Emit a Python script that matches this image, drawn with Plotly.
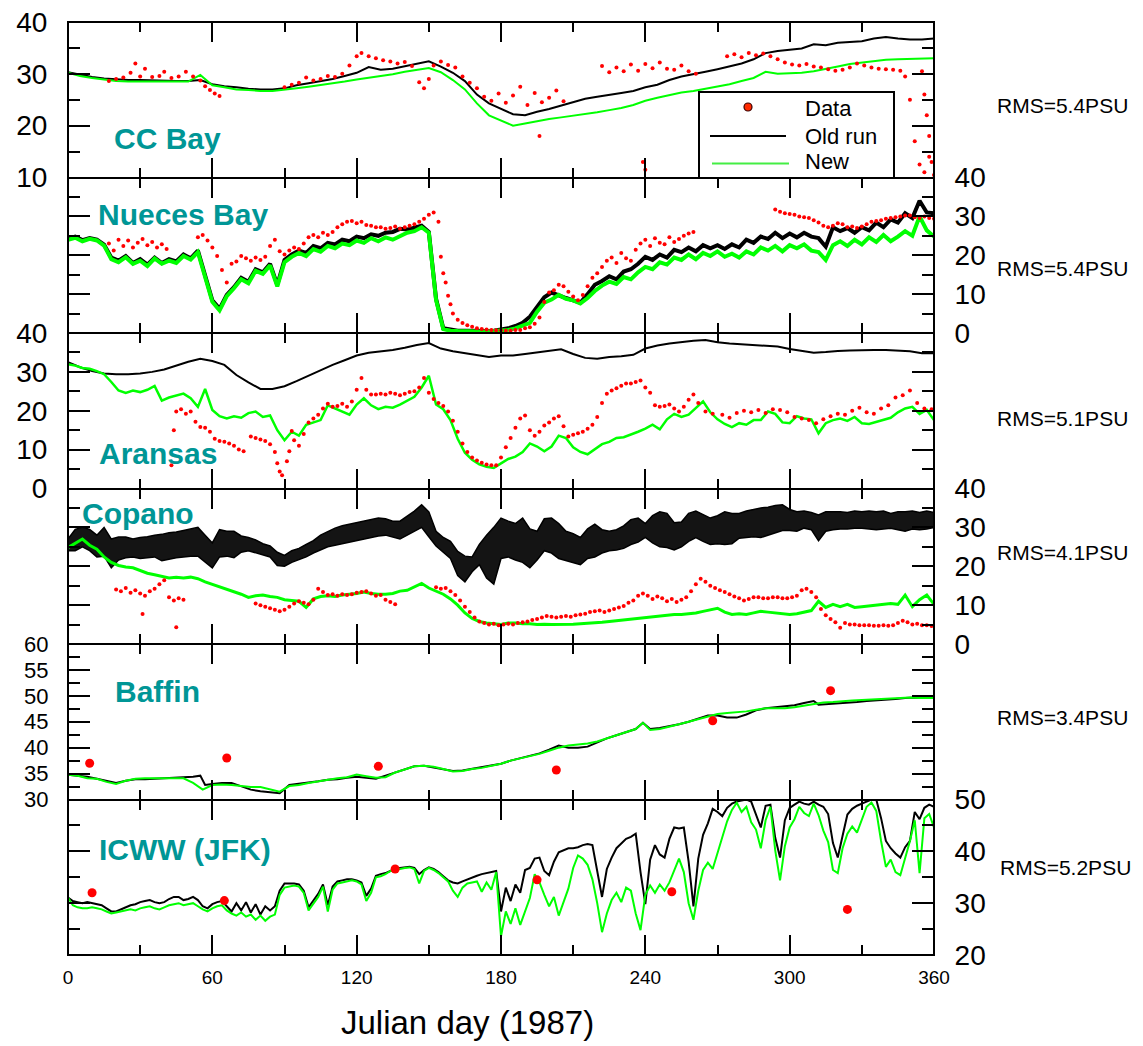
import plotly.graph_objects as go
from plotly.subplots import make_subplots

# ---------------- data (salinity, PSU) ----------------
# CC Bay
CC_DAYS = list(range(0, 361, 5))
CC_OLD = [30.3, 29.8, 29.4, 29.1, 28.9, 28.8, 28.8, 28.7, 28.7, 28.6,
          28.6, 28.8, 28.0, 27.6, 27.4, 27.1, 27.0, 27.0, 27.2, 27.8,
          28.2, 28.6, 29.0, 29.6, 30.2, 31.3, 30.8, 31.0, 31.5, 32.0,
          32.4, 31.4, 30.2, 28.6, 26.0, 24.3, 23.2, 22.2, 22.0, 22.7,
          23.2, 23.9, 24.6, 25.2, 25.6, 25.9, 26.3, 26.7, 27.4, 27.9,
          28.8, 29.5, 29.9, 30.4, 30.9, 31.4, 32.0, 32.8, 34.0, 34.4,
          34.6, 34.9, 35.7, 35.5, 36.0, 36.2, 36.3, 36.8, 37.1, 36.8,
          36.6, 36.6, 36.8]
CC_NEW = [30.2, 29.6, 29.2, 28.9, 28.6, 28.5, 28.5, 28.5, 28.4, 28.4,
          28.5, 29.8, 27.8, 27.4, 27.0, 26.9, 26.7, 26.7, 26.9, 27.2,
          27.5, 27.8, 28.1, 28.5, 28.9, 29.2, 29.5, 29.9, 30.4, 30.8,
          31.1, 30.3, 28.8, 27.0, 24.3, 22.0, 21.0, 20.0, 20.4, 20.9,
          21.3, 21.6, 21.9, 22.2, 22.6, 23.0, 23.4, 24.0, 24.8, 25.4,
          25.9, 26.4, 26.7, 27.1, 27.5, 28.0, 28.6, 29.2, 30.4, 30.0,
          30.1, 30.2, 30.5, 30.9, 31.4, 31.9, 32.2, 32.4, 32.7, 32.8,
          32.9, 33.0, 33.0]
CC_DATA_DAYS = ([17, 20, 23, 26, 28, 30, 32, 35, 38, 40, 43, 46, 49, 52, 55, 57, 59, 61, 63]
                + [90, 93, 96, 99, 102, 105, 108, 111, 114, 117, 120, 122, 125, 128, 131, 134, 137, 140,
                   143, 146, 148, 150, 152, 155, 158, 161, 164, 167, 170, 173, 176, 179, 182, 185, 188,
                   191, 194, 197, 200, 203, 206]
                + [196, 239, 240]
                + [222, 225, 228, 231, 234, 237, 240, 243, 246, 249, 252, 255, 258, 261]
                + [274, 277, 280, 283, 286, 289, 292, 295, 298, 301, 304, 307, 310, 313, 316, 319, 322,
                   325, 328, 331, 334, 337, 340, 343, 346, 348, 350, 352, 354, 356, 358, 360]
                + [355, 356, 357, 358, 359])
CC_DATA = ([28.6, 29.0, 29.3, 30.2, 32.0, 29.5, 31.0, 29.4, 29.6, 30.4, 29.2, 29.5, 30.4, 29.5, 28.7,
            27.6, 26.9, 26.2, 25.7]
           + [27.4, 27.9, 28.3, 29.3, 28.7, 29.0, 29.6, 29.4, 30.0, 31.6, 33.4, 34.0, 33.4, 33.0, 32.6,
              32.4, 32.0, 32.3, 31.5, 28.4, 27.2, 29.0, 31.6, 32.4, 31.7, 31.2, 29.5, 28.3, 27.2, 25.6,
              24.8, 26.2, 24.4, 25.8, 27.5, 24.0, 26.3, 24.5, 25.4, 26.8, 24.7]
           + [18.0, 13.0, 11.5]
           + [31.5, 30.3, 31.2, 30.5, 31.8, 30.6, 31.9, 31.1, 32.2, 31.0, 30.8, 31.6, 30.5, 30.0]
           + [33.4, 33.8, 33.2, 34.0, 33.6, 33.9, 33.4, 32.8, 32.2, 31.8, 31.6, 31.9, 31.4, 31.2, 30.9,
              30.6, 30.8, 31.2, 32.0, 31.6, 31.2, 31.0, 30.9, 30.8, 30.6, 29.5, 25.0, 17.0, 12.5, 11.0,
              14.0, 10.5]
           + [30.5, 26.0, 22.0, 18.0, 13.0])

# Nueces Bay
NU_DAYS = list(range(0, 361, 3))
NU_OLD = [24.3, 24.8, 23.9, 24.4, 24.0, 22.7, 19.4, 18.6, 19.8, 18.0,
          19.0, 17.6, 19.4, 18.0, 19.0, 18.4, 20.2, 19.2, 21.2, 14.8,
          8.4, 6.2, 9.8, 11.8, 14.2, 13.2, 16.4, 15.6, 17.8, 12.4,
          18.8, 20.2, 21.2, 20.6, 22.4, 21.8, 23.2, 22.8, 24.0, 23.6,
          24.8, 24.4, 25.4, 25.0, 25.8, 26.0, 26.8, 26.6, 27.2, 27.6,
          26.0, 8.8, 1.2, 0.8, 0.6, 0.6, 0.5, 0.5, 0.5, 0.6,
          0.8, 1.2, 1.8, 2.6, 4.2, 6.8, 9.2, 10.4, 9.6, 9.0,
          8.4, 7.8, 10.0, 12.4, 13.4, 14.6, 13.8, 15.8, 16.4, 17.8,
          19.6, 18.8, 20.2, 19.4, 21.4, 20.8, 22.0, 21.0, 22.6, 21.8,
          22.6, 21.6, 22.8, 22.0, 24.0, 23.2, 24.8, 24.2, 25.8, 24.4,
          25.6, 24.6, 25.8, 24.8, 24.4, 22.2, 27.2, 26.2, 27.0, 25.8,
          27.2, 26.4, 28.4, 27.2, 29.2, 28.4, 30.8, 29.6, 34.0, 31.0,
          30.8]
NU_NEW = [24.0, 24.5, 23.6, 24.2, 23.8, 22.5, 19.0, 18.2, 19.5, 17.8,
          18.6, 17.2, 19.2, 17.8, 18.6, 18.0, 19.8, 18.9, 20.8, 14.5,
          8.0, 5.8, 9.5, 11.5, 13.8, 12.8, 16.0, 15.2, 17.4, 12.0,
          18.2, 19.6, 20.6, 19.8, 21.6, 20.9, 22.4, 21.8, 23.0, 22.6,
          23.8, 23.2, 24.4, 23.6, 24.6, 24.0, 25.0, 25.8, 26.2, 27.2,
          25.8, 8.5, 1.0, 0.6, 0.5, 0.4, 0.4, 0.4, 0.4, 0.5,
          0.6, 0.8, 1.2, 1.8, 2.6, 5.5, 7.8, 8.6, 9.8, 8.8,
          8.4, 7.6, 9.0, 10.8, 12.2, 13.2, 12.6, 14.4, 13.8, 15.6,
          17.0, 16.4, 18.2, 17.6, 19.4, 18.8, 20.2, 19.0, 20.6, 19.8,
          21.0, 19.6, 20.4, 19.4, 21.0, 20.2, 22.0, 21.2, 22.4, 21.0,
          22.6, 21.8, 22.8, 21.2, 20.8, 18.8, 22.6, 23.6, 22.4, 24.0,
          22.8, 24.6, 23.4, 25.2, 23.6, 24.8, 26.2, 25.0, 30.0, 26.4,
          24.8]
NU_DATA_DAYS = ([17, 19, 21, 23, 25, 27, 29, 31, 33, 35, 37, 39, 41]
                + list(range(54, 153, 2))
                + [154, 155, 156, 157, 158, 159, 160]
                + list(range(162, 261, 2))
                + list(range(294, 361, 2)))
NU_DATA = ([23.0, 21.2, 24.0, 22.4, 23.8, 22.0, 23.2, 24.2, 22.6, 23.4, 22.0, 22.8, 21.6]
           + [24.6, 25.2, 23.8, 22.0, 19.8, 16.2, 13.0, 17.8, 18.4, 19.8,
              19.2, 18.6, 19.4, 18.8, 19.6, 22.4, 24.0, 21.0, 20.2, 21.2,
              22.0, 21.6, 23.0, 24.6, 25.2, 24.6, 25.8, 25.2, 26.0, 27.2,
              28.0, 28.6, 28.8, 28.2, 28.6, 27.8, 27.6, 27.2, 27.2, 26.8,
              27.0, 27.4, 26.8, 27.2, 27.6, 28.0, 28.6, 29.4, 30.4, 31.0]
           + [28.6, 19.6, 15.4, 13.0, 9.6, 7.4, 5.0]
           + [3.4, 2.6, 2.0, 1.6, 1.2, 1.0, 0.9, 0.8, 0.7, 0.7,
              0.6, 0.6, 0.8, 0.8, 1.2, 1.5, 2.4, 4.0, 8.0, 10.4,
              11.0, 12.4, 12.0, 10.6, 9.4, 8.4, 9.8, 12.0, 14.2, 15.4,
              17.0, 18.6, 19.4, 18.0, 20.6, 19.2, 18.6, 21.4, 23.0, 24.0,
              22.4, 24.4, 23.2, 22.8, 24.6, 23.4, 24.2, 25.0, 25.6, 26.0]
           + [31.8, 31.2, 30.8, 30.6, 30.4, 30.0, 29.8, 29.6, 29.0, 28.4,
              27.6, 27.2, 27.6, 28.2, 28.0, 27.2, 27.4, 27.0, 27.4, 28.0,
              28.6, 28.8, 29.0, 29.4, 29.6, 29.8, 30.0, 30.2, 30.2, 29.8,
              29.6, 30.0, 29.6, 29.4])

# Aransas
AR_OLD_DAYS = list(range(0, 361, 5))
AR_OLD = [32.5, 31.2, 30.2, 29.6, 29.4, 29.4, 29.6, 30.0, 30.6, 31.6,
          32.6, 33.4, 32.8, 31.8, 29.2, 27.3, 25.6, 25.6, 26.3, 27.6,
          29.0, 30.6, 31.8, 33.0, 34.2, 34.9, 35.2, 35.6, 36.2, 36.9,
          37.4, 36.0, 35.3, 34.8, 34.4, 33.8, 34.2, 34.2, 34.6, 35.0,
          35.4, 35.8, 34.6, 33.6, 33.4, 33.8, 34.0, 34.4, 36.0, 36.8,
          37.3, 37.7, 38.0, 38.2, 37.6, 37.3, 37.1, 37.0, 36.8, 36.5,
          35.9, 35.4, 34.9, 35.1, 35.4, 35.5, 35.6, 35.6, 35.6, 35.5,
          35.3, 34.8, 34.8]
AR_NEW_DAYS = list(range(0, 361, 3))
AR_NEW = [32.0, 31.6, 31.0, 30.8, 30.2, 29.4, 27.4, 25.2, 24.6, 25.2,
          24.8, 25.4, 26.4, 22.6, 23.4, 24.0, 24.4, 23.2, 21.0, 25.6,
          20.2, 18.6, 18.0, 18.6, 18.2, 19.4, 19.8, 18.4, 18.8, 15.0,
          12.4, 14.6, 13.6, 16.4, 17.0, 17.6, 21.4, 20.6, 19.8, 19.0,
          21.6, 23.2, 21.4, 20.4, 21.0, 20.8, 21.6, 22.6, 23.6, 26.0,
          29.0, 21.6, 20.4, 17.6, 12.8, 9.2, 7.4, 6.2, 5.6, 5.3,
          6.4, 7.6, 8.2, 9.4, 11.6, 10.8, 9.6, 10.8, 13.6, 13.0,
          10.6, 9.4, 8.8, 10.2, 11.4, 12.0, 13.0, 13.2, 13.8, 14.6,
          15.4, 16.4, 15.2, 17.8, 19.2, 18.4, 19.0, 20.6, 22.4, 19.6,
          17.8, 16.6, 15.8, 16.8, 16.4, 17.6, 17.6, 19.8, 19.2, 17.0,
          16.8, 18.6, 18.0, 17.8, 14.2, 16.8, 17.6, 18.0, 17.4, 18.4,
          16.8, 16.6, 17.2, 17.6, 18.2, 19.6, 20.6, 21.0, 19.2, 20.2,
          17.6]
AR_DATA_DAYS = ([43, 44, 45, 47, 49, 51, 53, 55, 57, 59, 61, 63, 65, 67, 69, 71, 73, 76, 78, 80,
                 82, 84, 86, 87, 88, 89, 91, 92, 93, 94, 96, 98]
                + list(range(100, 261, 2))
                + [262, 265, 268]
                + list(range(272, 360, 3)))
AR_DATA = ([6.0, 15.0, 19.8, 20.4, 19.2, 19.8, 17.2, 15.8, 15.6, 14.6, 12.8, 12.2, 12.0, 11.6, 11.0,
            10.0, 9.6, 13.4, 13.0, 12.6, 12.2, 11.4, 9.4, 6.5, 4.4, 3.4, 7.0, 9.6, 14.8, 12.4, 11.0, 14.0]
           + [17.0, 18.0, 19.0, 20.6, 21.8, 21.0, 21.2, 21.8, 21.0, 22.4,
              25.4, 28.4, 25.4, 24.2, 24.2, 24.4, 24.2, 24.6, 24.4, 24.0,
              24.4, 24.8, 25.0, 26.0, 28.4, 24.6, 23.0, 22.0, 21.2, 19.8,
              17.4, 14.6, 11.6, 9.4, 8.0, 7.2, 6.6, 6.2, 6.0, 6.0,
              8.0, 10.6, 13.0, 15.6, 18.0, 18.8, 15.0, 13.6, 14.6, 16.2,
              17.0, 18.0, 18.6, 16.0, 13.4, 13.8, 14.2, 14.6, 15.4, 16.4,
              18.4, 22.0, 24.4, 25.2, 25.8, 26.4, 27.0, 27.0, 27.4, 27.8,
              26.0, 24.6, 21.4, 21.0, 21.2, 21.6, 20.6, 19.8, 21.0, 22.8,
              24.2]
           + [22.0, 19.8, 19.2]
           + [19.0, 18.2, 19.4, 20.0, 19.6, 20.2, 19.4, 20.4, 20.2, 19.6,
              18.4, 18.0, 17.6, 16.8, 17.8, 18.6, 19.2, 19.0, 20.0, 20.8,
              19.6, 19.2, 20.6, 21.4, 23.4, 24.0, 25.2, 22.0, 20.6, 20.4])

# Copano (old run drawn as its tidal envelope: low and high values every 3 days)
CO_DAYS = list(range(0, 361, 3))
CO_OLD_LO = [24.0, 24.0, 25.0, 24.0, 22.4, 22.6, 19.6, 21.6, 22.2, 22.4,
             22.0, 22.2, 22.4, 21.4, 21.8, 22.2, 22.4, 22.6, 22.6, 21.0,
             19.6, 22.4, 22.6, 22.2, 23.6, 24.0, 23.4, 23.0, 22.4, 20.2,
             20.0, 21.0, 21.6, 22.4, 23.4, 24.2, 25.0, 25.4, 25.8, 26.2,
             26.6, 27.0, 27.4, 27.8, 28.0, 27.4, 27.0, 28.0, 29.0, 30.0,
             27.6, 25.2, 23.6, 22.0, 17.6, 16.0, 18.6, 20.4, 17.0, 15.4,
             22.0, 22.4, 21.6, 21.0, 19.6, 21.6, 24.0, 23.4, 22.0, 21.4,
             21.0, 20.4, 22.0, 22.4, 23.4, 24.0, 24.2, 24.6, 25.6, 26.2,
             27.4, 26.0, 25.0, 24.8, 24.2, 25.0, 26.4, 27.4, 26.4, 25.6,
             25.8, 25.6, 25.8, 27.2, 27.4, 27.6, 27.4, 28.0, 28.8, 29.2,
             29.2, 29.0, 29.8, 29.4, 26.6, 29.0, 29.4, 29.6, 29.6, 29.8,
             29.8, 29.6, 29.4, 29.6, 29.8, 29.4, 29.0, 29.6, 29.4, 29.6,
             30.0]
CO_OLD_HI = [27.0, 29.5, 30.0, 29.5, 28.0, 30.0, 27.0, 27.5, 27.5, 27.0,
             27.4, 27.6, 28.0, 28.2, 28.6, 28.8, 29.2, 29.6, 30.0, 28.0,
             26.0, 29.4, 29.0, 29.0, 27.8, 27.4, 26.8, 25.8, 25.2, 23.6,
             22.8, 24.0, 24.6, 25.6, 26.6, 28.0, 29.0, 29.8, 30.4, 30.8,
             31.2, 31.6, 32.0, 32.4, 32.2, 31.6, 31.6, 32.8, 34.2, 35.8,
             34.0, 29.0, 27.4, 26.4, 23.8, 22.6, 22.4, 25.6, 28.0, 30.0,
             32.4, 31.6, 31.0, 32.4, 29.6, 29.0, 32.2, 32.4, 31.0, 29.0,
             28.4, 27.4, 29.6, 30.8, 29.4, 29.0, 29.4, 30.4, 32.0, 32.4,
             31.0, 33.0, 34.0, 33.6, 31.2, 31.4, 33.6, 34.2, 33.4, 32.4,
             33.0, 34.0, 33.6, 33.6, 34.2, 34.6, 35.0, 35.2, 35.6, 35.8,
             34.6, 34.0, 34.2, 33.8, 33.2, 34.0, 34.0, 34.0, 33.8, 34.2,
             34.0, 34.2, 34.0, 34.2, 33.6, 34.0, 34.0, 34.2, 33.8, 34.2,
             33.8]
CO_NEW = [24.8, 25.8, 27.0, 25.4, 24.4, 22.4, 21.0, 20.2, 19.8, 19.6,
          18.8, 18.2, 17.8, 17.4, 17.0, 17.2, 17.0, 17.2, 16.8, 16.0,
          15.4, 14.8, 14.2, 13.6, 12.8, 12.0, 12.4, 12.6, 12.2, 12.0,
          11.4, 11.2, 11.0, 9.4, 11.6, 12.2, 12.4, 12.2, 12.6, 12.8,
          13.0, 13.4, 13.0, 12.8, 12.8, 13.0, 13.6, 13.8, 14.6, 15.6,
          14.4, 13.6, 12.8, 11.6, 10.0, 8.0, 6.6, 5.8, 5.4, 5.2,
          5.0, 5.4, 5.4, 5.2, 5.2, 5.0, 5.1, 5.0, 5.0, 5.0,
          5.1, 5.2, 5.3, 5.5, 5.6, 5.8, 6.0, 6.2, 6.4, 6.6,
          6.8, 7.0, 7.2, 7.4, 7.6, 7.6, 7.8, 8.0, 8.4, 8.8,
          9.2, 8.2, 7.6, 7.8, 7.6, 8.0, 8.4, 8.2, 8.0, 7.8,
          7.6, 7.8, 8.2, 8.6, 11.0, 9.4, 10.2, 9.6, 10.2, 9.4,
          9.6, 9.8, 10.0, 10.2, 10.4, 10.2, 12.6, 9.6, 11.4, 12.6,
          10.2]
CO_DATA_DAYS = (list(range(20, 49, 2)) + [31, 45]
                + list(range(78, 137, 2))
                + list(range(153, 360, 2)))
CO_DATA = ([14.0, 13.6, 14.4, 13.2, 13.8, 13.0, 12.4, 13.6, 14.2, 15.4, 16.4, 12.0, 11.2, 11.8, 11.4]
           + [7.7, 4.3]
           + [10.4, 10.0, 9.6, 9.2, 8.8, 8.4, 8.8, 9.6, 10.4, 11.0,
              10.6, 10.2, 11.4, 14.2, 13.4, 12.6, 12.8, 12.4, 12.8, 12.6,
              12.8, 13.2, 13.4, 13.6, 13.0, 12.4, 12.6, 11.4, 10.8, 10.2]
           + [14.6, 14.2, 14.4, 13.6, 12.6, 11.2, 9.6, 8.2, 6.8, 5.8,
              5.4, 5.0, 5.2, 4.8, 5.0, 5.2, 5.0, 5.4, 5.6, 5.8,
              6.2, 6.4, 6.8, 7.2, 7.0, 6.8, 7.0, 7.2, 7.0, 7.4,
              7.6, 7.8, 8.2, 8.4, 8.6, 8.2, 8.6, 9.0, 9.4, 9.8,
              10.6, 11.2, 12.4, 13.0, 12.4, 11.6, 12.2, 11.8, 11.0, 11.6,
              10.8, 11.4, 12.0, 13.6, 15.4, 16.8, 16.0, 15.0, 14.4, 13.8,
              13.4, 12.8, 12.2, 11.8, 11.2, 11.6, 12.0, 12.0, 11.8, 11.8,
              12.0, 12.0, 11.8, 11.8, 12.0, 12.4, 13.8, 14.2, 13.4, 12.0,
              9.0, 7.4, 6.4, 5.6, 4.2, 5.4, 5.0, 5.0, 4.8, 4.8,
              4.8, 4.7, 4.7, 4.8, 4.7, 4.8, 5.4, 6.0, 5.6, 5.0,
              5.2, 4.8, 4.8, 4.6])

# Baffin
BA_OLD_DAYS = ([0, 4, 8, 12, 16, 20, 24, 28, 32, 36, 40, 44, 48, 52, 55, 57]
               + list(range(60, 237, 4)) + [239, 242]
               + list(range(246, 311, 4)) + [312]
               + list(range(316, 361, 4)))
BA_OLD = [34.8, 34.6, 34.4, 34.0, 33.6, 33.2, 33.6, 33.9, 33.9, 34.0,
          34.0, 34.1, 34.2, 34.4, 34.6, 32.8, 33.0, 33.2, 33.2, 32.6,
          31.9, 31.6, 31.4, 31.2, 32.8, 33.0, 33.3, 33.5, 33.8, 33.9,
          34.2, 34.4, 34.2, 34.0, 34.6, 35.2, 35.8, 36.4, 36.5, 36.2,
          35.8, 35.5, 35.6, 35.9, 36.2, 36.6, 36.9, 37.5, 38.0, 38.4,
          38.9, 39.6, 40.4, 40.0, 40.0, 40.2, 41.0, 41.8, 42.4, 43.0,
          43.6, 44.8, 43.6, 43.8, 44.1, 44.5, 45.0, 45.6, 46.2, 46.2,
          45.8, 45.8, 46.4, 47.2, 47.6, 47.8, 48.0, 48.2, 48.6, 49.0,
          48.3, 48.4, 48.6, 48.7, 48.8, 49.0, 49.1, 49.2, 49.4, 49.6,
          49.7, 49.6, 49.6]
BA_NEW_DAYS = (list(range(0, 237, 4)) + [239, 242]
               + list(range(246, 359, 4)) + [360])
BA_NEW = [34.8, 34.6, 34.1, 34.0, 33.4, 33.0, 33.6, 34.0, 34.1, 34.1,
          34.0, 34.1, 34.1, 33.2, 31.9, 32.8, 32.9, 32.8, 32.6, 32.4,
          32.4, 32.0, 31.5, 32.6, 32.8, 33.2, 33.5, 33.9, 34.1, 34.3,
          34.8, 34.5, 34.2, 34.3, 35.2, 35.8, 36.4, 36.5, 36.3, 35.9,
          35.4, 35.5, 35.9, 36.1, 36.5, 36.9, 37.5, 37.9, 38.3, 38.8,
          39.4, 40.0, 40.4, 40.6, 40.8, 41.2, 41.8, 42.4, 43.0, 43.6,
          44.8, 43.4,
          43.6, 44.0, 44.5, 45.0, 45.5, 46.0, 46.5, 46.7, 46.8, 47.0,
          47.3, 47.6, 47.6, 47.6, 47.8, 48.1, 48.5, 48.7, 48.8, 49.0,
          49.1, 49.2, 49.3, 49.4, 49.5, 49.6, 49.7, 49.6, 49.6,
          49.6]
BA_DATA_DAYS = [9, 66, 129, 203, 268, 317]
BA_DATA = [37.0, 38.0, 36.4, 35.7, 45.2, 51.0]

# ICWW (JFK)
IC_DAYS = list(range(0, 361, 2))
IC_OLD = [31.1, 30.4, 30.2, 30.0, 30.2, 30.0, 29.8, 29.6, 29.0, 28.4,
          28.4, 28.8, 29.2, 29.6, 29.8, 30.2, 30.4, 30.6, 30.2, 30.0,
          30.2, 30.8, 31.2, 31.2, 30.6, 30.8, 31.2, 30.6, 29.4, 29.0,
          29.8, 30.2, 30.4, 29.4, 28.4, 30.0, 28.6, 30.2, 28.2, 29.8,
          27.8, 29.4, 28.6, 29.4, 32.4, 33.8, 33.8, 33.8, 33.6, 32.4,
          29.2, 30.6, 31.8, 33.6, 29.6, 33.2, 34.2, 34.4, 34.6, 34.6,
          34.4, 34.0, 31.4, 32.8, 35.3, 35.6, 35.8, 36.2, 36.6, 36.8,
          36.9, 37.0, 36.8, 35.6, 36.4, 36.9, 36.6, 36.0, 35.2, 34.4,
          34.0, 33.8, 34.2, 34.6, 35.0, 35.3, 35.6, 35.8, 36.0, 36.2,
          28.4, 33.0, 30.4, 33.6, 32.0, 36.4, 36.8, 38.6, 38.8, 36.2,
          35.4, 38.0, 39.8, 40.2, 40.6, 40.6, 40.8, 41.2, 41.4, 41.2,
          36.0, 31.2, 36.6, 38.8, 40.6, 41.6, 42.4, 42.8, 43.4, 36.0,
          29.8, 38.4, 41.2, 39.4, 38.8, 42.4, 44.6, 44.4, 44.6, 38.0,
          29.4, 38.6, 43.2, 45.4, 48.2, 47.6, 46.8, 48.4, 49.2, 49.6,
          49.8, 50.0, 49.6, 47.0, 44.6, 48.8, 49.0, 42.6, 38.8, 46.0,
          48.4, 49.0, 49.6, 49.2, 49.0, 49.6, 49.0, 48.6, 47.2, 41.6,
          38.8, 43.0, 47.1, 48.2, 48.8, 49.2, 49.6, 50.0, 50.0, 46.4,
          42.0, 40.6, 39.6, 38.8, 40.8, 42.0, 47.6, 46.2, 48.4, 49.0,
          48.6]
IC_NEW = [31.1, 29.6, 29.2, 29.0, 29.0, 29.2, 29.0, 28.8, 28.4, 28.0,
          28.2, 28.4, 28.6, 28.8, 28.6, 29.0, 29.2, 29.4, 29.0, 28.8,
          29.2, 29.6, 29.8, 30.0, 29.6, 29.8, 30.0, 29.4, 28.8, 28.4,
          29.0, 29.4, 29.6, 28.6, 28.0, 27.6, 28.2, 27.4, 27.8, 26.8,
          27.6, 26.6, 27.4, 27.8, 31.6, 33.0, 33.2, 33.4, 33.2, 32.0,
          28.6, 30.0, 31.2, 33.2, 28.4, 32.6, 33.8, 34.0, 34.2, 34.4,
          34.2, 33.6, 30.4, 32.0, 35.0, 35.2, 35.6, 36.2, 36.6, 36.6,
          36.8, 36.9, 36.6, 33.8, 36.2, 36.8, 36.4, 35.8, 35.0, 34.2,
          32.4, 31.2, 33.0, 33.8, 34.0, 34.2, 32.2, 34.0, 32.6, 36.0,
          23.6, 28.4, 26.0, 29.0, 25.8, 28.4, 31.0, 35.6, 34.0, 31.6,
          29.4, 31.2, 27.6, 30.2, 32.8, 36.8, 39.2, 38.6, 37.4, 34.6,
          30.0, 24.4, 28.0, 30.6, 32.0, 30.2, 33.0, 32.4, 28.0, 24.8,
          31.6, 33.4, 32.0, 33.6, 32.4, 34.0, 36.2, 38.6, 36.0, 30.0,
          26.8, 32.4, 36.4, 37.8, 36.6, 39.6, 42.4, 45.8, 48.0, 49.4,
          47.6, 48.6, 45.6, 44.2, 40.6, 46.0, 48.6, 40.2, 34.4, 41.0,
          44.6, 46.2, 48.6, 47.4, 46.8, 49.2, 47.0, 44.0, 41.8, 36.4,
          35.8, 40.6, 43.4, 44.8, 43.6, 46.0, 48.6, 49.4, 47.8, 42.0,
          37.0, 38.4, 36.0, 35.4, 38.6, 42.0, 46.0, 35.8, 46.4, 47.2,
          44.6]
IC_DATA_DAYS = [10, 65, 136, 195, 251, 324]
IC_DATA = [32.0, 30.5, 36.6, 34.5, 32.2, 28.8]

PANEL_NAMES = ["CC Bay", "Nueces Bay", "Aransas", "Copano", "Baffin", "ICWW (JFK)"]
RMS_TEXT = ["RMS=5.4PSU", "RMS=5.4PSU", "RMS=5.1PSU", "RMS=4.1PSU", "RMS=3.4PSU", "RMS=5.2PSU"]
X_TICKS = [0, 60, 120, 180, 240, 300, 360]
LEGEND_LABELS = ["Data", "Old run", "New"]

# ---------------- figure ----------------
BLACK = "#000000"
GREEN = "#00ff00"
RED = "#ff0000"
TEAL = "rgb(0,150,150)"
FONT = "Liberation Sans, Arial, Helvetica, sans-serif"

fig = make_subplots(rows=6, cols=1, shared_xaxes=True, vertical_spacing=0)


def line(row, x, y, color, width=2.0, **kw):
    assert len(x) == len(y), (row, len(x), len(y))
    fig.add_trace(go.Scatter(x=x, y=y, mode="lines", line=dict(color=color, width=width, **kw),
                             showlegend=False, hoverinfo="skip"), row=row, col=1)


def dots(row, x, y, size=4.0):
    assert len(x) == len(y), (row, len(x), len(y))
    fig.add_trace(go.Scatter(x=x, y=y, mode="markers",
                             marker=dict(color=RED, size=size, line=dict(width=0)),
                             showlegend=False, hoverinfo="skip"), row=row, col=1)


line(1, CC_DAYS, CC_OLD, BLACK)
line(1, CC_DAYS, CC_NEW, GREEN)
dots(1, CC_DATA_DAYS, CC_DATA)

line(2, NU_DAYS, NU_OLD, BLACK, 4)
line(2, NU_DAYS, NU_NEW, GREEN, 4)
dots(2, NU_DATA_DAYS, NU_DATA)

line(3, AR_OLD_DAYS, AR_OLD, BLACK)
line(3, AR_NEW_DAYS, AR_NEW, GREEN, 2.5)
dots(3, AR_DATA_DAYS, AR_DATA)

# Copano old run: dense tidal band between its low and high values
assert len(CO_DAYS) == len(CO_OLD_LO) == len(CO_OLD_HI) == len(CO_NEW)
fig.add_trace(go.Scatter(x=CO_DAYS, y=CO_OLD_LO, mode="lines",
                         line=dict(color=BLACK, width=1.5),
                         showlegend=False, hoverinfo="skip"), row=4, col=1)
fig.add_trace(go.Scatter(x=CO_DAYS, y=CO_OLD_HI, mode="lines",
                         line=dict(color=BLACK, width=1.5),
                         fill="tonexty", fillcolor="rgba(0,0,0,0.92)",
                         showlegend=False, hoverinfo="skip"), row=4, col=1)
line(4, CO_DAYS, CO_NEW, GREEN, 3)
dots(4, CO_DATA_DAYS, CO_DATA)

line(5, BA_OLD_DAYS, BA_OLD, BLACK)
line(5, BA_NEW_DAYS, BA_NEW, GREEN)
dots(5, BA_DATA_DAYS, BA_DATA, size=9)

line(6, IC_DAYS, IC_OLD, BLACK, 2)
line(6, IC_DAYS, IC_NEW, GREEN, 2)
dots(6, IC_DATA_DAYS, IC_DATA, size=9)

# axes
fig.update_xaxes(range=[0, 360], tickmode="array", tickvals=X_TICKS,
                 ticktext=[str(v) for v in X_TICKS],
                 ticks="inside", ticklen=20, tickwidth=2, tickcolor="black",
                 minor=dict(ticks="inside", ticklen=10, tickwidth=2, tickcolor="black",
                            tickmode="linear", tick0=30, dtick=60),
                 showline=True, linecolor="black", linewidth=1, mirror="ticks",
                 showgrid=False, zeroline=False,
                 tickfont=dict(family=FONT, size=19, color="black"),
                 ticklabelstandoff=5, ticklabeloverflow="allow", automargin=False)

PANELS = [
    dict(rng=[10, 40], dtick=10, minor=5, side="left", fs=28),
    dict(rng=[0, 40], dtick=10, minor=5, side="right", fs=28),
    dict(rng=[0, 40], dtick=10, minor=5, side="left", fs=28),
    dict(rng=[0, 40], dtick=10, minor=5, side="right", fs=28),
    dict(rng=[30, 60], dtick=5, minor=2.5, side="left", fs=22),
    dict(rng=[20, 50], dtick=10, minor=5, side="right", fs=28),
]
for i, p in enumerate(PANELS, start=1):
    fig.update_yaxes(range=p["rng"], tickmode="linear", tick0=0, dtick=p["dtick"], side=p["side"],
                     ticks="inside", ticklen=22, tickwidth=2, tickcolor="black",
                     minor=dict(ticks="inside", ticklen=12, tickwidth=2, tickcolor="black",
                                tickmode="linear", tick0=0, dtick=p["minor"]),
                     showline=True, linecolor="black", linewidth=1, mirror="ticks",
                     showgrid=False, zeroline=False,
                     tickfont=dict(family=FONT, size=p["fs"], color="black"),
                     ticklabelstandoff=14, ticklabeloverflow="allow", automargin=False,
                     row=i, col=1)

# The page body has an 8px margin, so the figure is made 8px smaller and the
# plot area placed so that it lands where the reference has it.
OFF = 8
W, H = 1143 - OFF, 1046 - OFF
L, R, T, B = 68, 934, 22, 955   # plot-area edges in window pixels


def px(xp):
    return (xp - L) / (R - L)


def py(yp):
    return (B - yp) / (B - T)


annotations = []
label_pos = [(112, 139), (96, 214), (97, 453), (80, 513), (113, 691), (97, 849)]
for name, (lx, ly) in zip(PANEL_NAMES, label_pos):
    annotations.append(dict(text="<b>%s</b>" % name, x=px(lx), y=py(ly), xref="paper", yref="paper",
                            xanchor="left", yanchor="middle", showarrow=False,
                            font=dict(family=FONT, size=30, color=TEAL)))

rms_pos = [(995, 106), (995, 268), (995, 418), (995, 552), (995, 717), (998, 867)]
for txt, (rx, ry) in zip(RMS_TEXT, rms_pos):
    annotations.append(dict(text=txt, x=px(rx), y=py(ry), xref="paper", yref="paper",
                            xanchor="left", yanchor="middle", showarrow=False,
                            font=dict(family=FONT, size=21, color="black")))

annotations.append(dict(text="Julian day (1987)", x=px(467), y=py(1022), xref="paper", yref="paper",
                        xanchor="center", yanchor="middle", showarrow=False,
                        font=dict(family=FONT, size=33, color="black")))

legend_rows = [109, 136, 161]
for txt, ly in zip(LEGEND_LABELS, legend_rows):
    annotations.append(dict(text=txt, x=px(803), y=py(ly), xref="paper", yref="paper",
                            xanchor="left", yanchor="middle", showarrow=False,
                            font=dict(family=FONT, size=22, color="black")))

shapes = [
    # outer frame of the stacked panels
    dict(type="rect", xref="paper", yref="paper", x0=0, x1=1, y0=0, y1=1,
         line=dict(color="black", width=2), layer="above"),
    # legend box
    dict(type="rect", xref="paper", yref="paper", x0=px(699), x1=px(894), y0=py(178), y1=py(92),
         fillcolor="white", line=dict(color="black", width=2), layer="above"),
    dict(type="line", xref="paper", yref="paper", x0=px(710), x1=px(786), y0=py(136), y1=py(136),
         line=dict(color="black", width=2), layer="above"),
    dict(type="line", xref="paper", yref="paper", x0=px(712), x1=px(789), y0=py(163.5), y1=py(163.5),
         line=dict(color="#44ee44", width=2), layer="above"),
    dict(type="circle", xref="paper", yref="paper", xsizemode="pixel", ysizemode="pixel",
         xanchor=px(748), yanchor=py(107), x0=-4, x1=4, y0=-4, y1=4,
         fillcolor="#ff2a00", line=dict(color="#3a0000", width=1.2), layer="above"),
]

fig.update_layout(width=W, height=H,
                  margin=dict(l=L - OFF, r=1143 - R, t=T - OFF, b=1046 - B),
                  paper_bgcolor="white", plot_bgcolor="white", showlegend=False,
                  annotations=annotations, shapes=shapes,
                  font=dict(family=FONT, color="black"))

fig.write_html("out.html")
